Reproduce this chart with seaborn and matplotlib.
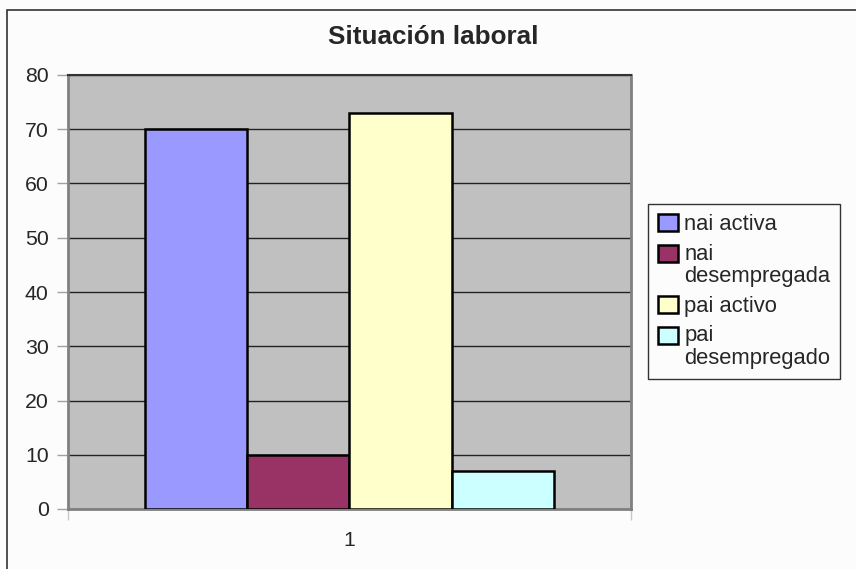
import pandas as pd
import numpy as np
import seaborn as sns
import matplotlib.pyplot as plt
from matplotlib.patches import Rectangle
from matplotlib.ticker import FixedLocator

categories = ["1"]
series = ["nai activa", "nai\ndesempregada", "pai activo", "pai\ndesempregado"]
values = [70, 10, 73, 7]
colors = ["#9999ff", "#993366", "#ffffcc", "#ccffff"]
yticks = [0, 10, 20, 30, 40, 50, 60, 70, 80]

df = pd.DataFrame({
    "cat": categories * len(series),
    "serie": series,
    "valor": values,
})

sns.set_style("white")
plt.rcParams['font.family'] = ['Liberation Sans', 'DejaVu Sans']

fig = plt.figure(figsize=(8.56, 5.69), dpi=100)
fig.patch.set_facecolor("#fcfcfc")

# outer chart border (only left/top visible, like the cropped excel chart)
fig.patches.append(Rectangle((7 / 856, -0.1), 1.2, 1 - 10 / 569 + 0.1,
                             transform=fig.transFigure, fill=False,
                             edgecolor="#333333", lw=1.2, zorder=0))

ax = fig.add_axes([68 / 856, 60 / 569, 563 / 856, 434 / 569])
ax.set_facecolor("#c0c0c0")

sns.barplot(data=df, x="cat", y="valor", hue="serie", hue_order=series,
            palette=colors, width=0.7265, dodge=True, gap=0,
            edgecolor="black", linewidth=1.8, saturation=1, ax=ax, zorder=3)

ax.set_xlim(-0.5, 0.5)
ax.set_ylim(0, 80)
ax.set_yticks(yticks)
ax.yaxis.grid(True, color="#222222", lw=1)
ax.set_axisbelow(True)
ax.set_xlabel("")
ax.set_ylabel("")

ax.tick_params(axis="y", labelsize=15.3, length=8, width=1, color="#a0a0a0",
               pad=6, left=True)
ax.tick_params(axis="x", which="major", length=0, labelsize=15.3, pad=16)
ax.xaxis.set_minor_locator(FixedLocator([-0.5, 0.5]))
ax.tick_params(axis="x", which="minor", length=8, width=1, color="#c8c8c8",
               bottom=True)

for side in ["left", "bottom", "right"]:
    ax.spines[side].set_color("#808080")
    ax.spines[side].set_linewidth(2)
ax.spines["top"].set_color("#333333")
ax.spines["top"].set_linewidth(1.5)

fig.text(0.506, 1 - 37 / 569, "Situación laboral", ha="center", va="center",
         fontsize=18.7, fontweight="bold")

fs = 15.8
leg = ax.legend(loc="upper left", bbox_to_anchor=(648 / 856, 1 - 204 / 569),
                bbox_transform=fig.transFigure, fontsize=fs,
                frameon=True, fancybox=False, handlelength=0.9,
                handleheight=0.85, handletextpad=0.3, labelspacing=0.38,
                borderpad=0.45, borderaxespad=0)
leg.get_frame().set_edgecolor("black")
leg.get_frame().set_linewidth(1)
leg.get_frame().set_facecolor("#fcfcfc")
for t in leg.get_texts():
    t.set_linespacing(1.1)
# handles sit on the first line of two-line labels
for h, lab in zip(leg.legend_handles, series):
    h.set_edgecolor("black")
    h.set_linewidth(1.8)
    if "\n" in lab:
        h.set_y(h.get_y() + fs * 0.55)

fig.savefig("out.png", dpi=100, facecolor=fig.get_facecolor())
